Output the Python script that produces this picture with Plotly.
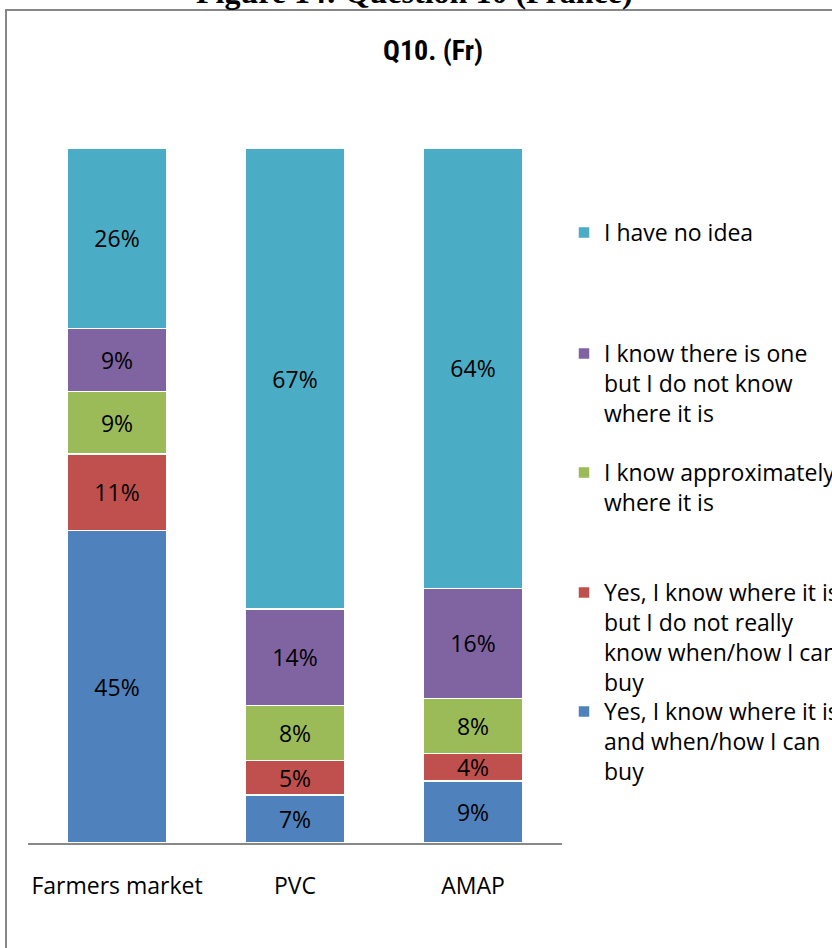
import plotly.graph_objects as go

# ---- data ----
categories = ["Farmers market", "PVC", "AMAP"]

yes_know_when = [45, 7, 9]
yes_not_when = [11, 5, 4]
know_approx = [9, 8, 8]
know_one_not_where = [9, 14, 16]
no_idea = [26, 67, 64]

series = [
    ("Yes, I know where it is<br>and when/how I can<br>buy", yes_know_when, "#4F81BD"),
    ("Yes, I know where it is<br>but I do not really<br>know when/how I can<br>buy", yes_not_when, "#C0504D"),
    ("I know approximately<br>where it is", know_approx, "#9BBB59"),
    ("I know there is one<br>but I do not know<br>where it is", know_one_not_where, "#8064A2"),
    ("I have no idea", no_idea, "#4BACC6"),
]

# ---- layout geometry (pixels) ----
W, H = 832, 948
L, R, T, B = 28, 270, 148, 105
PW, PH = W - L - R, H - T - B

def px_x(x):
    return (x - L) / PW

def px_y(y):
    return 1 - (y - T) / PH

FONT = "Open Sans, Noto Sans, sans-serif"
FS = 23

fig = go.Figure()
legend_tops = [690, 571, 451, 332, 211]  # pixel top for each legend block (bottom series first)
legend_names = ["legend5", "legend4", "legend3", "legend2", "legend"]

for i, (name, vals, col) in enumerate(series):
    fig.add_trace(go.Bar(
        x=categories, y=vals, name=name,
        marker=dict(color=col, line=dict(color="white", width=1.5)),
        text=[f"{v}%" for v in vals],
        textposition="inside", insidetextanchor="middle",
        textangle=0, constraintext="none",
        textfont=dict(family=FONT, size=FS, color="black"),
        legend=legend_names[i],
        hoverinfo="skip",
    ))

layout_legends = {}
for i, ln in enumerate(legend_names):
    layout_legends[ln] = dict(
        x=px_x(564), y=px_y(legend_tops[i]), xanchor="left", yanchor="top",
        font=dict(family=FONT, size=FS, color="black"),
        bgcolor="rgba(0,0,0,0)", borderwidth=0, valign="top",
        itemclick=False, itemdoubleclick=False,
    )

fig.update_layout(
    width=W, height=H,
    margin=dict(l=L, r=R, t=T, b=B, autoexpand=False),
    paper_bgcolor="white", plot_bgcolor="white",
    barmode="stack", barnorm="percent", bargap=0.44,
    showlegend=True,
    xaxis=dict(
        showline=True, linecolor="#888888", linewidth=2,
        showgrid=False, ticks="", ticklabelstandoff=21,
        tickfont=dict(family=FONT, size=FS, color="black"),
        fixedrange=True,
    ),
    yaxis=dict(
        range=[0, 100], showgrid=False, showticklabels=False,
        zeroline=False, showline=False, fixedrange=True,
    ),
    **layout_legends,
    shapes=[dict(
        type="rect", xref="paper", yref="paper",
        x0=px_x(6), x1=px_x(W + 20), y0=px_y(H + 20), y1=px_y(10),
        line=dict(color="#878787", width=2), fillcolor="rgba(0,0,0,0)",
        layer="below",
    )],
    annotations=[
        dict(text="<b>Q10. (Fr)</b>", xref="paper", yref="paper",
             x=px_x(433), y=px_y(51), xanchor="center", yanchor="middle",
             showarrow=False,
             font=dict(family="Liberation Sans Narrow, Roboto Condensed, Roboto, sans-serif", size=28, color="black")),
        dict(text="<b>Figure 14: Question 10 (France)</b>", xref="paper", yref="paper",
             x=px_x(414), y=px_y(12), xanchor="center", yanchor="bottom",
             showarrow=False,
             font=dict(family="Liberation Serif, Times New Roman, serif", size=32, color="black")),
    ],
)

fig.write_html("out.html")
